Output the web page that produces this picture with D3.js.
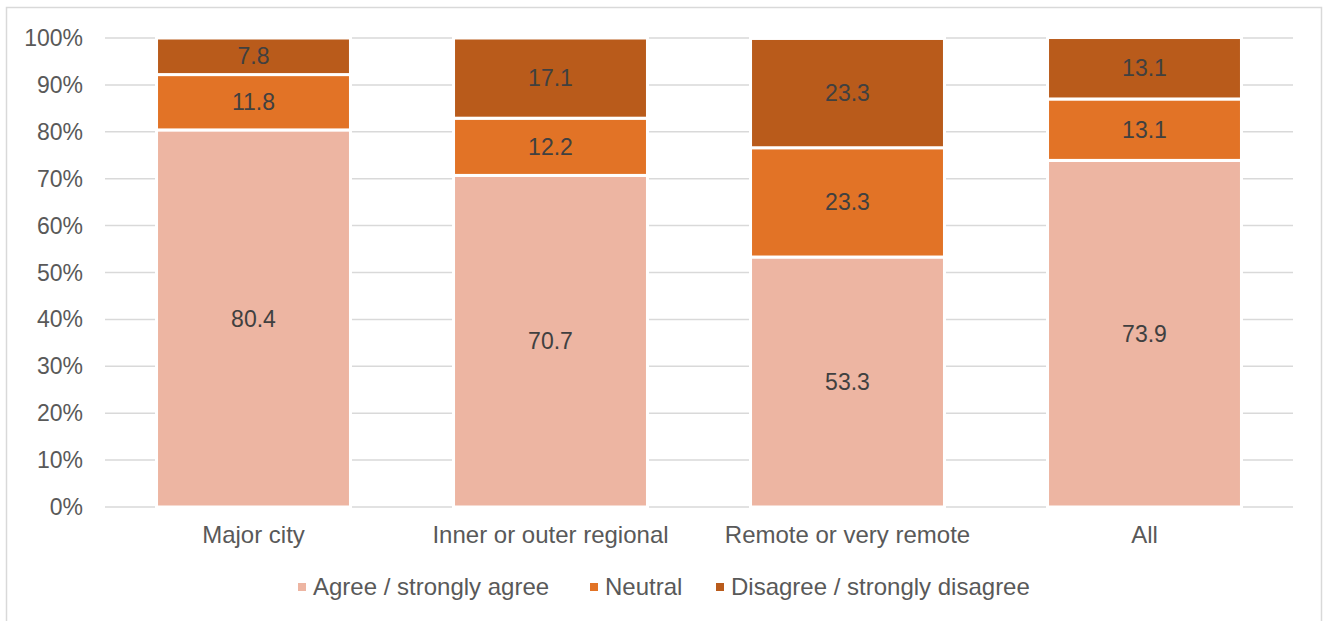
<!DOCTYPE html>
<meta charset="utf-8">
<style>
    body { margin: 0; background: #fff; }
    text { font-family: "Liberation Sans", Arial, sans-serif; }
    .grid line { stroke: #d9d9d9; stroke-width: 1.5; }
    .axis text { fill: #595959; }
    .label { fill: #404040; font-size: 23px; }
</style>
<svg width="1325" height="621"></svg>
<script src="https://d3js.org/d3.v7.min.js"></script>
<script>

    var categories = ["Major city", "Inner or outer regional", "Remote or very remote", "All"],
        seriesNames = ["Agree / strongly agree", "Neutral", "Disagree / strongly disagree"],
        agree = [80.4, 70.7, 53.3, 73.9],
        neutral = [11.8, 12.2, 23.3, 13.1],
        disagree = [7.8, 17.1, 23.3, 13.1],
        yTicks = [0, 10, 20, 30, 40, 50, 60, 70, 80, 90, 100],
        colors = ["#edb5a2", "#e27326", "#b95b1b"];

    var svg = d3.select("svg"),
        margin = {top: 38, right: 32, bottom: 114, left: 105},
        width = +svg.attr("width") - margin.left - margin.right,
        height = +svg.attr("height") - margin.top - margin.bottom;

    // outer chart frame (runs off the bottom of the picture)
    svg.append("rect")
        .attr("x", 6.5).attr("y", 7.5)
        .attr("width", 1315).attr("height", 640)
        .attr("fill", "none")
        .attr("stroke", "#d9d9d9")
        .attr("stroke-width", 1.5);

    var rows = categories.map(function(c, i) {
        return {cat: c, s0: agree[i], s1: neutral[i], s2: disagree[i]};
    });
    var stack = d3.stack().keys(["s0", "s1", "s2"])(rows);

    var x = d3.scaleBand().domain(categories).range([0, width])
            .paddingInner(0.347).paddingOuter(0.1735),
        y = d3.scaleLinear().domain([0, 100]).range([height, 0]);

    var g = svg.append("g")
        .attr("transform", "translate(" + margin.left + "," + margin.top + ")");

    g.append("g")
        .attr("class", "grid")
        .selectAll("line")
        .data(yTicks)
        .enter().append("line")
        .attr("x1", 0).attr("x2", width)
        .attr("y1", function(d) { return y(d); })
        .attr("y2", function(d) { return y(d); });

    g.append("g")
        .attr("class", "axis")
        .selectAll("text")
        .data(yTicks)
        .enter().append("text")
        .attr("x", -22)
        .attr("y", function(d) { return y(d); })
        .attr("dy", "0.35em")
        .attr("text-anchor", "end")
        .attr("font-size", "23px")
        .text(function(d) { return d + "%"; });

    var xAxis = g.append("g")
        .attr("class", "axis")
        .attr("transform", "translate(0," + height + ")")
        .call(d3.axisBottom(x).tickSize(0).tickPadding(19));
    xAxis.select(".domain").remove();
    xAxis.attr("font-family", null).attr("font-size", null);
    xAxis.selectAll("text").attr("font-size", "24px");

    var layers = g.selectAll(".layer")
        .data(stack)
        .enter().append("g")
        .attr("class", "layer")
        .attr("fill", function(d, i) { return colors[i]; });

    layers.selectAll("rect")
        .data(function(d) { return d; })
        .enter().append("rect")
        .attr("x", function(d) { return x(d.data.cat); })
        .attr("y", function(d) { return y(d[1]); })
        .attr("width", x.bandwidth())
        .attr("height", function(d) { return y(d[0]) - y(d[1]); })
        .attr("stroke", "#fff")
        .attr("stroke-width", 3);

    layers.selectAll("text")
        .data(function(d) { return d; })
        .enter().append("text")
        .attr("class", "label")
        .attr("x", function(d) { return x(d.data.cat) + x.bandwidth() / 2; })
        .attr("y", function(d) { return y((d[0] + d[1]) / 2); })
        .attr("dy", "0.35em")
        .attr("text-anchor", "middle")
        .text(function(d) { return (d[1] - d[0]).toFixed(1); });

    // legend
    var legendX = [298, 590, 716];
    var legend = svg.append("g")
        .selectAll("g")
        .data(seriesNames)
        .enter().append("g")
        .attr("transform", function(d, i) { return "translate(" + legendX[i] + ",587)"; });
    legend.append("rect")
        .attr("x", 0).attr("y", -4)
        .attr("width", 8).attr("height", 8)
        .attr("fill", function(d, i) { return colors[i]; });
    legend.append("text")
        .attr("x", 15)
        .attr("dy", "0.35em")
        .attr("fill", "#595959")
        .attr("font-size", "24px")
        .text(function(d) { return d; });
</script>
